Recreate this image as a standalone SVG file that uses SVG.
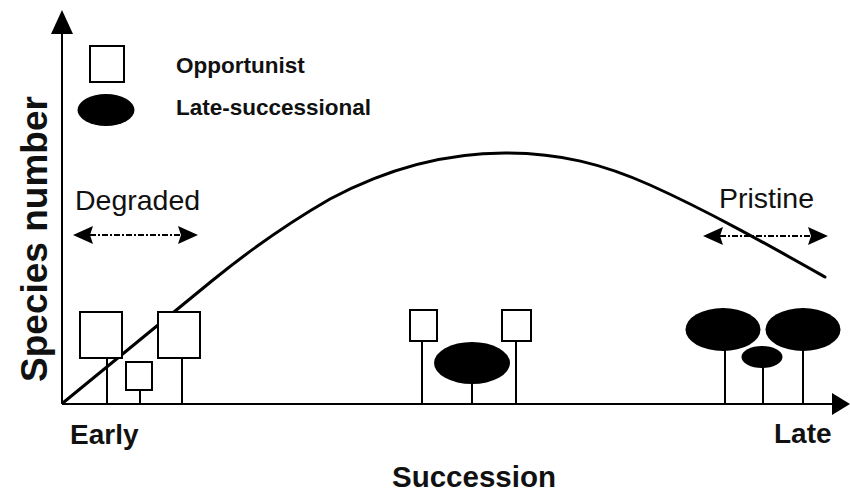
<svg xmlns="http://www.w3.org/2000/svg" width="851" height="494" viewBox="0 0 851 494">
<style>
.ax{stroke:#000;stroke-width:2;fill:none}
.box{fill:#fff;stroke:#000;stroke-width:2}
.stem{stroke:#000;stroke-width:2}
.blob{fill:#000}
.head{fill:#000}
.dash{stroke:#000;stroke-width:1.8;stroke-dasharray:6 2 2 2;fill:none}
.b{font-family:"Liberation Sans",Arial,sans-serif;font-weight:bold;fill:#111}
.r{font-family:"Liberation Sans",Arial,sans-serif;fill:#111}
</style>
<rect width="851" height="494" fill="#fff"/>
<g id="axes">
<line class="ax" x1="62" y1="404" x2="62" y2="30"/>
<polygon class="head" points="62,10 51,34 73,34"/>
<line class="ax" x1="62" y1="404" x2="835" y2="404"/>
<polygon class="head" points="850,404 832,393 832,415"/>
<text class="b" font-size="37" transform="translate(47,239) rotate(-90)" text-anchor="middle">Species number</text>
<text class="b" font-size="28" x="70" y="444">Early</text>
<text class="b" font-size="28" x="774" y="443">Late</text>
<text class="b" font-size="29.5" x="392" y="487">Succession</text>
</g>
<g id="legend">
<rect class="box" x="90" y="46" width="34" height="36"/>
<ellipse class="blob" cx="106" cy="110" rx="28.5" ry="16"/>
<text class="b" font-size="22.5" x="176" y="73">Opportunist</text>
<text class="b" font-size="22.5" x="176" y="115">Late-successional</text>
</g>
<g id="curve">
<path d="M64,402 L213,280 C250,250 290,222 330,199 C375,175 435,153 505,153 C560,153 603,164 650,185 C710,212 770,246 825,277" fill="none" stroke="#000" stroke-width="3" stroke-linecap="round"/>
</g>
<g id="degraded">
<text class="r" font-size="28.5" x="75" y="210">Degraded</text>
<line class="dash" x1="90" y1="235" x2="181" y2="235"/>
<polygon class="head" points="73,235 93,226 90,235 93,244"/>
<polygon class="head" points="198,235 178,226 181,235 178,244"/>
</g>
<g id="pristine">
<text class="r" font-size="28.5" x="719" y="208">Pristine</text>
<line class="dash" x1="720" y1="236" x2="811" y2="236"/>
<polygon class="head" points="703,236 723,227 720,236 723,245"/>
<polygon class="head" points="828,236 808,227 811,236 808,245"/>
</g>
<g id="early-plants">
<line class="stem" x1="107" y1="358" x2="107" y2="404"/>
<rect class="box" x="80" y="312" width="42" height="46"/>
<line class="stem" x1="140" y1="390" x2="140" y2="404"/>
<rect class="box" x="126" y="362" width="26" height="28"/>
<line class="stem" x1="182" y1="358" x2="182" y2="404"/>
<rect class="box" x="158" y="312" width="42" height="46"/>
</g>
<g id="mid-plants">
<line class="stem" x1="422" y1="341" x2="422" y2="404"/>
<rect class="box" x="410" y="310" width="27" height="31"/>
<line class="stem" x1="472" y1="380" x2="472" y2="404"/>
<ellipse class="blob" cx="472" cy="363" rx="38" ry="21"/>
<line class="stem" x1="516" y1="341" x2="516" y2="404"/>
<rect class="box" x="502" y="310" width="29" height="31"/>
</g>
<g id="late-plants">
<line class="stem" x1="725" y1="345" x2="725" y2="404"/>
<line class="stem" x1="763" y1="360" x2="763" y2="404"/>
<line class="stem" x1="803" y1="345" x2="803" y2="404"/>
<ellipse class="blob" cx="723" cy="329.5" rx="37.5" ry="21.5"/>
<ellipse class="blob" cx="803" cy="329.5" rx="37.5" ry="21.5"/>
<ellipse class="blob" cx="762" cy="357" rx="20.5" ry="11"/>
</g>
</svg>
